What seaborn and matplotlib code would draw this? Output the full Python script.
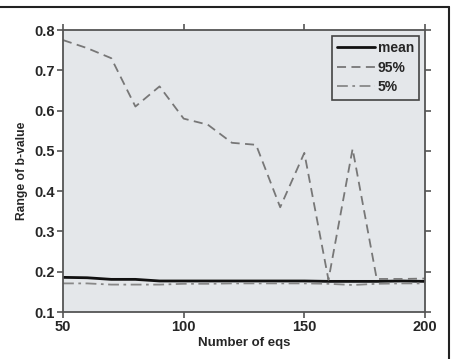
import matplotlib
matplotlib.use("Agg")
import matplotlib.pyplot as plt
import seaborn as sns
import pandas as pd
from matplotlib.lines import Line2D

n_eqs = [50, 60, 70, 80, 90, 100, 110, 120, 130, 140, 150, 160, 170, 180, 190, 200]
mean_vals = [0.186, 0.185, 0.181, 0.181, 0.177, 0.177, 0.177, 0.177, 0.177, 0.177, 0.177, 0.176, 0.176, 0.176, 0.177, 0.176]
p95_vals = [0.775, 0.755, 0.73, 0.61, 0.66, 0.58, 0.565, 0.52, 0.515, 0.36, 0.495, 0.18, 0.505, 0.182, 0.182, 0.183]
p5_vals = [0.171, 0.171, 0.168, 0.168, 0.168, 0.170, 0.170, 0.171, 0.171, 0.171, 0.171, 0.170, 0.167, 0.170, 0.171, 0.171]

sns.set_theme(style="ticks")
plt.rcParams["font.family"] = ["Liberation Sans", "DejaVu Sans"]
plt.rcParams["font.weight"] = "bold"

fig = plt.figure(figsize=(4.54, 3.59), dpi=100)
ax = fig.add_axes([63/454, 1-312/359, (425-63)/454, (312-30)/359])
ax.set_facecolor("#e4e7ea")

df = pd.DataFrame({"n": n_eqs, "mean": mean_vals, "p95": p95_vals, "p5": p5_vals})
sns.lineplot(data=df, x="n", y="mean", ax=ax, color="#111111", linewidth=2.0, label="mean")
sns.lineplot(data=df, x="n", y="p95", ax=ax, color="#777777", linewidth=1.3, label="95%")
sns.lineplot(data=df, x="n", y="p5", ax=ax, color="#888888", linewidth=1.3, label="5%")
lines = ax.get_lines()
lines[1].set_dashes([5, 3])
lines[2].set_dashes([6, 2.5, 1.5, 2.5])

ax.set_xlim(50, 200)
ax.set_ylim(0.1, 0.8)
ax.set_xticks([50, 100, 150, 200])
ax.set_yticks([0.1, 0.2, 0.3, 0.4, 0.5, 0.6, 0.7, 0.8])
ax.set_yticklabels(["0.1", "0.2", "0.3", "0.4", "0.5", "0.6", "0.7", "0.8"])
ax.tick_params(direction="out", length=4, width=1.2, color="#555555",
               top=True, right=True, labelsize=10.5, pad=2)
for lab in ax.get_xticklabels() + ax.get_yticklabels():
    lab.set_fontweight("bold")
for s in ax.spines.values():
    s.set_color("#555555")
    s.set_linewidth(1.3)
ax.set_xlabel("Number of eqs", fontsize=9.5, fontweight="bold", labelpad=2)
ax.set_ylabel("Range of b-value", fontsize=8.7, fontweight="bold", labelpad=4)

leg = ax.legend(loc="upper right", frameon=True, fancybox=False, fontsize=10,
                handlelength=2.7, handletextpad=0.2, borderpad=0.4,
                labelspacing=0.4, markerfirst=True, borderaxespad=0.4)
leg.get_frame().set_edgecolor("#444444")
leg.get_frame().set_linewidth(1.2)
leg.get_frame().set_facecolor("#e4e7ea")
leg.get_frame().set_alpha(1)
for t in leg.get_texts():
    t.set_fontweight("bold")

fig.add_artist(Line2D([0, 449/454], [1-7/359, 1-7/359], transform=fig.transFigure, color="#222222", linewidth=1.5))
fig.add_artist(Line2D([449/454, 449/454], [0, 1-7/359], transform=fig.transFigure, color="#222222", linewidth=1.5))

fig.savefig("out.png", dpi=100)
